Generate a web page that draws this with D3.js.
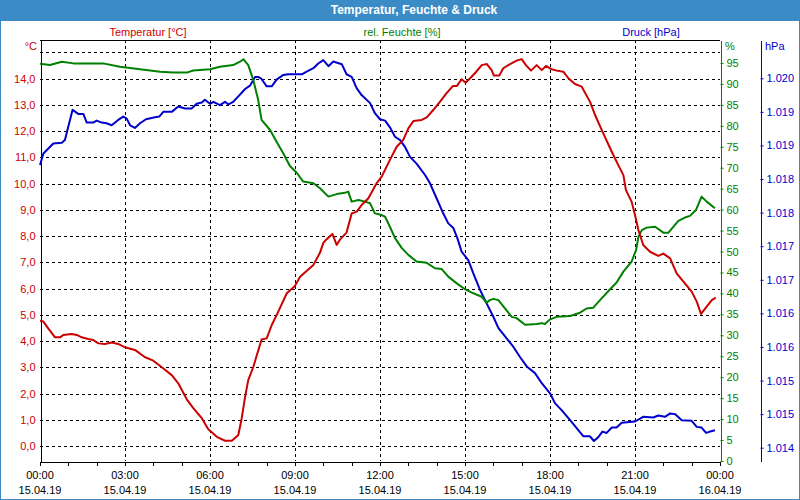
<!DOCTYPE html>
<html>
<head>
<meta charset="utf-8">
<script src="https://cdn.jsdelivr.net/npm/d3@7"></script>
<style>
  body { margin: 0; background: #fff; }
  svg { display: block; font-family: "Liberation Sans", Arial, sans-serif; font-size: 11px; }
</style>
</head>
<body>
<div id="chart"></div>
<script>
// Size of the picture and the plot box
const width = 800;
const height = 500;
const plotLeft = 40, plotRight = 720, plotTop = 40, plotBottom = 461;

// Temperature [°C], hours after 15.04.19 00:00
const tempHours = [0, 0.12, 0.29, 0.53, 0.71, 0.82, 1.12, 1.30, 1.47, 1.70, 1.88, 2.06, 2.29, 2.53, 2.76, 3.00, 3.35, 3.71, 4.00, 4.30, 4.65, 4.88, 5.18, 5.41, 5.71, 5.94, 6.24, 6.53, 6.77, 7.00, 7.12, 7.24, 7.35, 7.53, 7.82, 8.00, 8.18, 8.41, 8.71, 9.00, 9.18, 9.41, 9.65, 9.88, 10.00, 10.09, 10.32, 10.47, 10.59, 10.82, 11.00, 11.18, 11.35, 11.59, 11.88, 12.06, 12.35, 12.59, 12.82, 13.00, 13.18, 13.47, 13.65, 13.88, 14.12, 14.35, 14.57, 14.71, 14.88, 15.02, 15.18, 15.35, 15.59, 15.77, 15.94, 16.02, 16.21, 16.35, 16.59, 16.82, 17.00, 17.15, 17.33, 17.53, 17.71, 17.86, 18.06, 18.24, 18.47, 18.65, 18.88, 19.12, 19.41, 19.59, 19.88, 20.18, 20.41, 20.59, 20.68, 20.88, 21.00, 21.12, 21.29, 21.53, 21.82, 22.00, 22.24, 22.47, 22.71, 23.00, 23.18, 23.33, 23.53, 23.71, 23.85];
const tempValues = [4.77, 4.74, 4.48, 4.14, 4.14, 4.23, 4.27, 4.23, 4.14, 4.08, 4.04, 3.91, 3.89, 3.94, 3.89, 3.76, 3.66, 3.38, 3.25, 3.00, 2.70, 2.39, 1.78, 1.44, 1.06, 0.64, 0.35, 0.20, 0.20, 0.42, 1.06, 1.88, 2.51, 3.02, 4.06, 4.10, 4.61, 5.12, 5.82, 6.10, 6.45, 6.67, 6.90, 7.36, 7.74, 7.85, 8.08, 7.66, 7.87, 8.13, 8.86, 8.93, 9.18, 9.44, 10.01, 10.26, 10.90, 11.40, 11.66, 12.10, 12.38, 12.42, 12.52, 12.80, 13.12, 13.44, 13.71, 13.71, 13.97, 13.84, 14.01, 14.20, 14.51, 14.55, 14.32, 14.11, 14.11, 14.39, 14.55, 14.68, 14.74, 14.51, 14.30, 14.51, 14.32, 14.48, 14.35, 14.30, 14.26, 14.01, 13.79, 13.69, 13.12, 12.61, 11.91, 11.21, 10.70, 10.32, 9.75, 9.31, 8.80, 8.23, 7.66, 7.40, 7.24, 7.33, 7.15, 6.58, 6.26, 5.88, 5.50, 5.03, 5.31, 5.56, 5.65];

// Relative humidity [%]
const humHours = [0, 0.35, 0.77, 1.18, 2.23, 2.82, 3.53, 4.24, 4.70, 5.18, 5.41, 6.00, 6.35, 6.82, 7.06, 7.18, 7.35, 7.53, 7.70, 7.82, 8.12, 8.35, 8.59, 8.82, 9.06, 9.29, 9.65, 9.88, 10.18, 10.47, 10.76, 10.88, 11.00, 11.24, 11.47, 11.65, 11.82, 12.06, 12.18, 12.35, 12.53, 12.77, 13.00, 13.29, 13.65, 13.94, 14.18, 14.41, 14.71, 15.00, 15.24, 15.59, 15.76, 15.88, 16.00, 16.18, 16.41, 16.65, 16.82, 17.12, 17.53, 17.71, 17.82, 18.00, 18.24, 18.71, 19.06, 19.29, 19.53, 19.82, 20.12, 20.35, 20.59, 20.88, 21.04, 21.12, 21.24, 21.41, 21.71, 22.00, 22.18, 22.53, 22.76, 22.94, 23.15, 23.35, 23.53, 23.82];
const humValues = [94.8, 94.5, 95.3, 94.9, 94.9, 94.1, 93.5, 92.9, 92.7, 92.7, 93.2, 93.5, 94.1, 94.5, 95.3, 95.9, 94.5, 90.9, 86.2, 81.4, 79.0, 76.2, 73.4, 70.4, 68.8, 66.7, 66.3, 65.1, 63.1, 63.7, 64.0, 64.3, 61.9, 62.3, 61.9, 61.5, 59.1, 58.7, 58.3, 55.9, 53.2, 50.8, 49.2, 47.6, 47.3, 46.0, 45.8, 44.0, 42.4, 41.0, 40.2, 39.2, 37.8, 38.4, 38.7, 38.4, 36.4, 34.4, 34.1, 32.5, 32.7, 32.9, 32.7, 33.8, 34.4, 34.6, 35.4, 36.4, 36.6, 38.8, 41.0, 42.6, 45.2, 47.6, 50.4, 53.5, 55.1, 55.7, 55.9, 54.5, 54.5, 57.3, 58.1, 58.5, 59.9, 63.1, 61.9, 60.3];

// Air pressure [hPa]
const pressHours = [0, 0.12, 0.47, 0.77, 0.88, 1.15, 1.35, 1.53, 1.65, 1.88, 2.00, 2.18, 2.35, 2.53, 2.76, 2.94, 3.06, 3.18, 3.35, 3.53, 3.74, 4.06, 4.21, 4.35, 4.65, 4.88, 5.12, 5.35, 5.53, 5.71, 5.82, 6.00, 6.12, 6.35, 6.53, 6.65, 6.82, 7.00, 7.24, 7.41, 7.59, 7.70, 7.82, 8.00, 8.18, 8.35, 8.59, 8.76, 9.00, 9.24, 9.41, 9.65, 9.82, 10.00, 10.18, 10.35, 10.65, 10.82, 11.00, 11.18, 11.35, 11.65, 11.82, 12.00, 12.18, 12.35, 12.53, 12.71, 12.88, 13.06, 13.29, 13.59, 13.76, 14.00, 14.23, 14.41, 14.59, 14.73, 14.88, 15.12, 15.29, 15.53, 15.82, 16.00, 16.18, 16.35, 16.71, 16.94, 17.18, 17.47, 17.71, 18.00, 18.18, 18.41, 18.71, 18.94, 19.18, 19.41, 19.55, 19.71, 19.85, 20.00, 20.18, 20.35, 20.53, 21.00, 21.29, 21.65, 21.82, 22.06, 22.24, 22.41, 22.65, 23.00, 23.18, 23.35, 23.51, 23.65, 23.82];
const pressValues = [1018.31, 1018.48, 1018.63, 1018.64, 1018.68, 1019.13, 1019.07, 1019.07, 1018.94, 1018.94, 1018.97, 1018.94, 1018.93, 1018.90, 1018.98, 1019.03, 1019.00, 1018.90, 1018.86, 1018.93, 1018.99, 1019.02, 1019.03, 1019.10, 1019.10, 1019.18, 1019.15, 1019.15, 1019.22, 1019.24, 1019.28, 1019.22, 1019.25, 1019.20, 1019.25, 1019.21, 1019.25, 1019.33, 1019.44, 1019.49, 1019.62, 1019.62, 1019.59, 1019.48, 1019.48, 1019.58, 1019.65, 1019.66, 1019.66, 1019.66, 1019.70, 1019.75, 1019.82, 1019.87, 1019.78, 1019.85, 1019.81, 1019.66, 1019.62, 1019.45, 1019.35, 1019.23, 1019.08, 1018.99, 1018.97, 1018.87, 1018.73, 1018.68, 1018.58, 1018.43, 1018.33, 1018.16, 1018.04, 1017.81, 1017.59, 1017.44, 1017.37, 1017.22, 1017.02, 1016.89, 1016.70, 1016.45, 1016.20, 1016.05, 1015.88, 1015.79, 1015.60, 1015.45, 1015.31, 1015.21, 1015.06, 1014.91, 1014.76, 1014.66, 1014.51, 1014.39, 1014.27, 1014.27, 1014.20, 1014.26, 1014.34, 1014.32, 1014.40, 1014.40, 1014.47, 1014.49, 1014.56, 1014.55, 1014.58, 1014.56, 1014.61, 1014.60, 1014.51, 1014.50, 1014.41, 1014.40, 1014.32, 1014.34, 1014.36];

// Axis ticks
const tempTicks = [0, 1, 2, 3, 4, 5, 6, 7, 8, 9, 10, 11, 12, 13, 14];
const gridTemps = [0, 1, 2, 3, 4, 5, 6, 7, 8, 9, 10, 11, 12, 13, 14, 15];
const humTicks = [0, 5, 10, 15, 20, 25, 30, 35, 40, 45, 50, 55, 60, 65, 70, 75, 80, 85, 90, 95];
const pressTicks = [1014.1, 1014.6, 1015.1, 1015.6, 1016.1, 1016.6, 1017.1, 1017.6, 1018.1, 1018.6, 1019.1, 1019.6];
const timeTicks = [0, 3, 6, 9, 12, 15, 18, 21, 24];
const hourTicks = [0, 1, 2, 3, 4, 5, 6, 7, 8, 9, 10, 11, 12, 13, 14, 15, 16, 17, 18, 19, 20, 21, 22, 23, 24];

const red = "#cc0000", green = "#008000", blue = "#0000cc", frame = "#3b8cc6";

// German number format: 14,0 and 1.019
const de = d3.formatLocale({ decimal: ",", thousands: ".", grouping: [3], currency: ["", " €"] });

const day = new Date(2019, 3, 15);
const toDate = h => new Date(day.getTime() + h * 3600000);

// Scales
const x = d3.scaleTime().domain([toDate(0), toDate(24)]).range([plotLeft, plotRight]);
const yT = d3.scaleLinear().domain([-0.571, 15.467]).range([plotBottom, plotTop]);
const yH = d3.scaleLinear().domain([0, 100.48]).range([plotBottom, plotTop]);
const yP = d3.scaleLinear().domain([1013.902, 1020.17]).range([plotBottom, plotTop]);

const svg = d3.select("#chart")
    .append("svg")
    .attr("width", width)
    .attr("height", height);

// Frame and title bar
svg.append("rect")
    .attr("x", 0.5).attr("y", 0.5)
    .attr("width", width - 1).attr("height", height - 1)
    .attr("fill", "#fff")
    .attr("stroke", frame);

svg.append("rect")
    .attr("x", 0).attr("y", 0)
    .attr("width", width).attr("height", 21)
    .attr("fill", frame);

svg.append("text")
    .attr("x", 414).attr("y", 14)
    .attr("text-anchor", "middle")
    .attr("fill", "#fff")
    .style("font-weight", "bold")
    .style("font-size", "12px")
    .text("Temperatur, Feuchte & Druck");

// Series titles above the plot
const heads = [
    { text: "Temperatur [°C]", x: 148, color: red },
    { text: "rel. Feuchte [%]", x: 402, color: green },
    { text: "Druck [hPa]", x: 651, color: blue }
];
svg.selectAll(".head")
    .data(heads)
    .enter()
    .append("text")
    .attr("class", "head")
    .attr("x", d => d.x).attr("y", 36)
    .attr("text-anchor", "middle")
    .attr("fill", d => d.color)
    .text(d => d.text);

// Dashed grid
const grid = svg.append("g")
    .attr("stroke", "#000")
    .attr("stroke-dasharray", "3,3")
    .attr("shape-rendering", "crispEdges");

grid.selectAll(".hgrid")
    .data(gridTemps)
    .enter()
    .append("line")
    .attr("x1", plotLeft).attr("x2", plotRight)
    .attr("y1", d => Math.round(yT(d)) + 0.5)
    .attr("y2", d => Math.round(yT(d)) + 0.5);

grid.selectAll(".vgrid")
    .data(timeTicks.slice(1, -1))
    .enter()
    .append("line")
    .attr("x1", d => Math.round(x(toDate(d))) + 0.5)
    .attr("x2", d => Math.round(x(toDate(d))) + 0.5)
    .attr("y1", plotTop).attr("y2", plotBottom);

// Top border
svg.append("line")
    .attr("x1", plotLeft).attr("x2", plotRight)
    .attr("y1", plotTop + 0.5).attr("y2", plotTop + 0.5)
    .attr("stroke", "#000")
    .attr("shape-rendering", "crispEdges");

// Left axis (temperature)
const axT = svg.append("g")
    .attr("transform", `translate(${plotLeft + 0.5},0)`)
    .call(d3.axisLeft(yT).tickValues(tempTicks).tickSize(0).tickSizeOuter(0).tickPadding(5)
        .tickFormat(de.format(",.1f")));
axT.select(".domain").attr("stroke", "#000").attr("shape-rendering", "crispEdges");
axT.selectAll("text").attr("fill", red).style("font-size", "11px").style("font-family", "Liberation Sans, Arial, sans-serif");

svg.append("text")
    .attr("x", 37).attr("y", 50)
    .attr("text-anchor", "end")
    .attr("fill", red)
    .text("°C");

// Right axis (humidity)
const axH = svg.append("g")
    .attr("transform", `translate(${plotRight + 0.5},0)`)
    .call(d3.axisRight(yH).tickValues(humTicks).tickSize(3).tickSizeOuter(0).tickPadding(3));
axH.select(".domain").attr("stroke", green).attr("shape-rendering", "crispEdges");
axH.selectAll("line").attr("stroke", green);
axH.selectAll("text").attr("fill", green).style("font-size", "11px").style("font-family", "Liberation Sans, Arial, sans-serif");

svg.append("text")
    .attr("x", 725).attr("y", 50)
    .attr("fill", green)
    .text("%");

// Outer right axis (pressure)
const axP = svg.append("g")
    .attr("transform", "translate(760.5,0)")
    .call(d3.axisRight(yP).tickValues(pressTicks).tickSize(3).tickSizeOuter(0).tickPadding(3)
        .tickFormat(de.format(",.0f")));
axP.select(".domain").attr("stroke", blue).attr("shape-rendering", "crispEdges");
axP.selectAll("line").attr("stroke", blue);
axP.selectAll("text").attr("fill", blue).style("font-size", "11px").style("font-family", "Liberation Sans, Arial, sans-serif");

svg.append("text")
    .attr("x", 765).attr("y", 50)
    .attr("fill", blue)
    .text("hPa");

// Bottom axis: hour ticks, labels every three hours
const axX = svg.append("g")
    .attr("transform", `translate(0,${plotBottom + 0.5})`)
    .call(d3.axisBottom(x).tickValues(hourTicks.map(toDate)).tickSize(4).tickSizeOuter(0)
        .tickFormat(""));
axX.select(".domain").attr("stroke", "#000").attr("shape-rendering", "crispEdges");
axX.selectAll("line").attr("shape-rendering", "crispEdges");

const xLabels = svg.selectAll(".xlab")
    .data(timeTicks)
    .enter()
    .append("g")
    .attr("class", "xlab")
    .attr("transform", d => `translate(${x(toDate(d))},0)`);

xLabels.append("text")
    .attr("y", 479)
    .attr("text-anchor", "middle")
    .attr("fill", "#000")
    .text(d => d3.timeFormat("%H:%M")(toDate(d)));

xLabels.append("text")
    .attr("y", 494)
    .attr("text-anchor", "middle")
    .attr("fill", "#000")
    .text(d => d3.timeFormat("%d.%m.%y")(toDate(d)));

// Curves
const series = [
    { hours: pressHours, values: pressValues, y: yP, color: blue },
    { hours: humHours, values: humValues, y: yH, color: green },
    { hours: tempHours, values: tempValues, y: yT, color: red }
];

series.forEach(s => {
    const line = d3.line()
        .x(d => x(toDate(d[0])))
        .y(d => s.y(d[1]));
    svg.append("path")
        .datum(d3.zip(s.hours, s.values))
        .attr("fill", "none")
        .attr("stroke", s.color)
        .attr("stroke-width", 2)
        .attr("stroke-linejoin", "round")
        .attr("d", line);
});
</script>
</body>
</html>
